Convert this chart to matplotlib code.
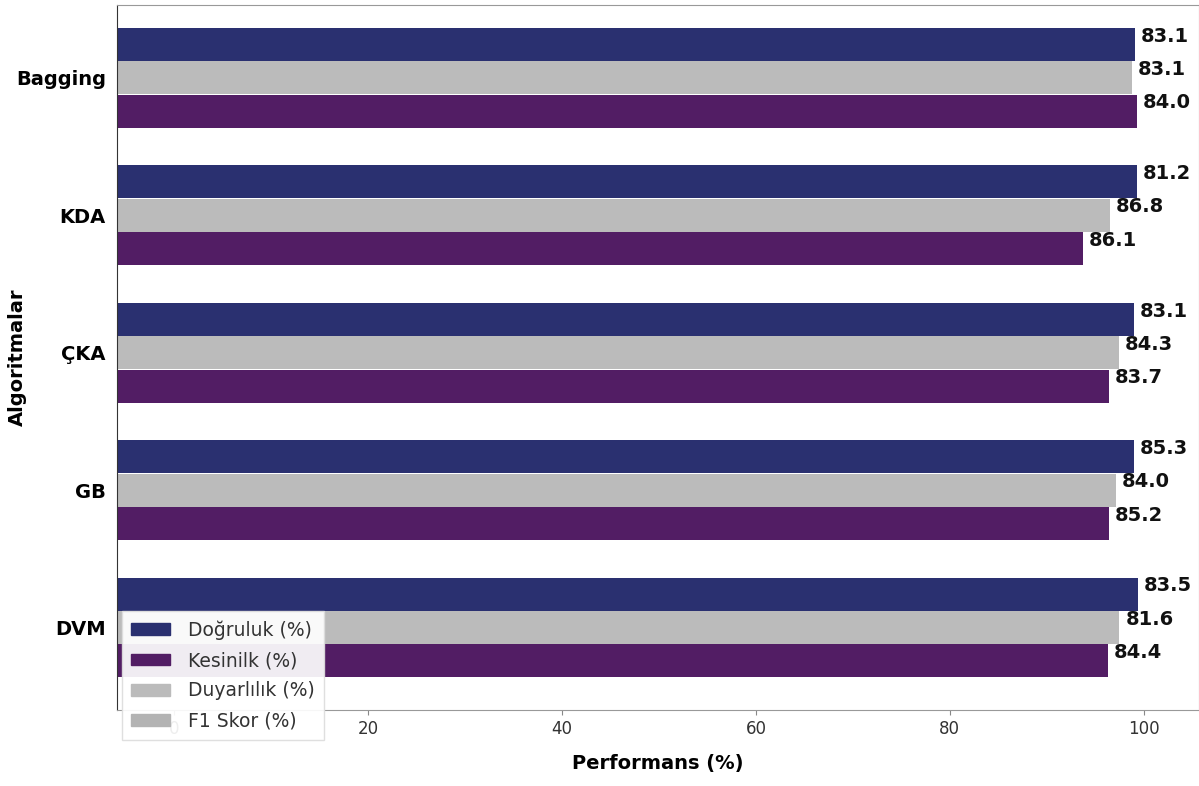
import numpy as np
import matplotlib.pyplot as plt
from matplotlib.patches import Patch

# Data (top to bottom as in the chart)
algorithms = ['Bagging', 'KDA', 'ÇKA', 'GB', 'DVM']

# bar lengths as drawn
dogruluk_bar = [99.1, 99.3, 99.0, 99.0, 99.4]
duyarlilik_bar = [98.8, 96.5, 97.4, 97.1, 97.5]
kesinlik_bar = [99.3, 93.7, 96.4, 96.4, 96.3]

# printed values next to the bars
dogruluk_lbl = [83.1, 81.2, 83.1, 85.3, 83.5]
duyarlilik_lbl = [83.1, 86.8, 84.3, 84.0, 81.6]
kesinlik_lbl = [84.0, 86.1, 83.7, 85.2, 84.4]

navy = '#2a3070'
purple = '#521d64'
grey = '#bbbbbb'
grey2 = '#b3b3b3'

fig = plt.figure(figsize=(11.99, 7.86), dpi=100)
ax = fig.add_axes([0.0976, 0.0967, 0.9024, 0.897])

y = np.arange(len(algorithms))[::-1]
h = 0.24
off = 0.243
x0 = -5.9  # left edge of the axis, bars start at the spine

series = [(dogruluk_bar, dogruluk_lbl, navy, off),
          (duyarlilik_bar, duyarlilik_lbl, grey, 0),
          (kesinlik_bar, kesinlik_lbl, purple, -off)]

for bars, lbls, col, o in series:
    ax.barh(y + o, np.array(bars) - x0, left=x0, height=h, color=col)
    for yy, b, l in zip(y, bars, lbls):
        ax.text(b + 0.6, yy + o + 0.06, f'{l:.1f}', va='center', ha='left',
                fontsize=14, fontweight='bold', color='#111111')

ax.set_xlim(x0, 105.7)
ax.set_ylim(-0.6, 4.53)
ax.set_xticks([0, 20, 40, 60, 80, 100])
ax.set_yticks(y)
ax.set_yticklabels(algorithms, fontsize=14, fontweight='bold')
ax.tick_params(axis='x', labelsize=12, labelcolor='#333333', colors='#888888')
ax.tick_params(axis='y', length=0, pad=8)
for s in ax.spines.values():
    s.set_color('#999999')
ax.spines['left'].set_color('#333333')

ax.set_xlabel('Performans (%)', fontsize=14, fontweight='bold', labelpad=12)
ax.set_ylabel('Algoritmalar', fontsize=14, fontweight='bold')
ax.yaxis.set_label_coords(-0.083, 0.5)

handles = [Patch(color=navy), Patch(color=purple), Patch(color=grey), Patch(color=grey2)]
labels = ['Doğruluk (%)', 'Kesinilk (%)', 'Duyarlılık (%)', 'F1 Skor (%)']
leg = ax.legend(handles, labels, loc='lower left', bbox_to_anchor=(0.0046, -0.0426),
                borderaxespad=0, fontsize=13.5, frameon=True, framealpha=0.92,
                edgecolor='#dddddd', handlelength=2.05, handleheight=0.6,
                borderpad=0.5, labelspacing=0.6, handletextpad=0.95, fancybox=False)
for t in leg.get_texts():
    t.set_color('#333333')

fig.savefig('out.png', dpi=100)
